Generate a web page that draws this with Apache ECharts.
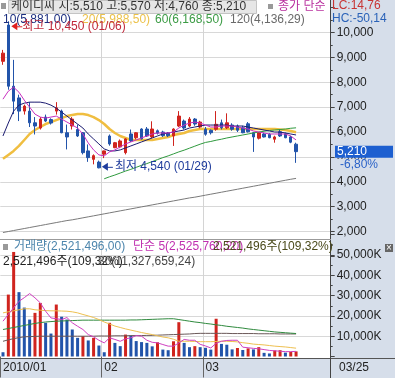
<!DOCTYPE html>
<html>
<head>
<meta charset="utf-8">
<script src="https://cdn.jsdelivr.net/npm/echarts@6/dist/echarts.min.js"></script>
<style>
html, body { margin: 0; padding: 0; background: #fff; }
#main { width: 395px; height: 378px; }
</style>
</head>
<body>
<div id="main"></div>
<script>
// 케이디씨 일봉 2010/01/05 ~ 2010/03/25
var dates = ['01/05','01/06','01/07','01/08','01/11','01/12','01/13','01/14','01/15','01/18','01/19','01/20','01/21','01/22','01/25','01/26','01/27','01/28','01/29',
  '02/01','02/02','02/03','02/04','02/05','02/08','02/09','02/10','02/11','02/12','02/16','02/17','02/18','02/19','02/22','02/23','02/24','02/25','02/26',
  '03/02','03/03','03/04','03/05','03/08','03/09','03/10','03/11','03/12','03/15','03/16','03/17','03/18','03/19','03/22','03/23','03/24','03/25'];
var blankSlots = 6;

var openP = [8840,10300,7840,7370,6840,6840,6370,6160,6600,6500,6840,6840,5970,6240,6100,5970,5240,4900,4790,
  5110,5840,5370,5400,5170,5920,5770,6120,6120,5800,6050,6000,5950,5840,6240,6440,6240,6520,6200,
  6110,6070,6110,6370,6170,6280,6240,6170,6330,5970,5750,5920,5910,5710,6010,5930,5800,5510];
var closeP = [9170,7840,7240,6840,7040,6370,6240,6520,6440,6360,6970,5970,5800,6520,5840,5170,4970,5050,4560,
  5240,5520,5570,5640,5720,5640,5970,5720,5840,6120,5950,5850,5850,6120,6640,6160,6520,6320,6400,
  5910,5970,6310,6170,6370,6110,6070,5970,6010,5800,5970,5800,5770,5800,5840,5770,5590,5210];
var lowP = [8700,7700,6720,6440,6700,6200,5900,6100,6400,6300,6700,5950,5300,6100,5800,5100,4800,4700,4540,
  4950,5450,5350,5350,5100,5600,5700,5700,5800,5750,5900,5800,5800,5440,6200,6100,6200,6250,6150,
  5850,5900,6050,6100,6120,6050,6000,5950,5980,5200,5700,5780,5750,5570,5800,5750,5550,4760];
var highP = [9300,10450,8900,7500,7100,7200,6600,6600,6700,6550,7200,6900,6300,6600,6300,6000,5500,5100,4850,
  5250,5900,5600,5700,5750,6100,6000,6150,6200,6430,6100,6050,6000,6150,6840,6500,6600,6560,6450,
  6200,6100,6840,6500,6750,6350,6300,6250,6400,6000,6000,5970,5950,5850,6100,5980,5850,5570];

var ma5 = [7320,7640,7800,7600,7280,7000,6720,6600,6560,6600,6640,6520,6400,6280,6160,5920,5560,5280,5080,
  5040,5200,5280,5400,5520,5600,5680,5760,5840,5920,5960,5960,5960,6000,6160,6280,6360,6400,6360,
  6280,6200,6200,6240,6240,6240,6200,6160,6120,6040,6000,5960,5920,5920,5920,5920,5840,5680];
var ma10 = [5840,6360,6840,7080,7160,7200,7200,7200,7160,7080,6960,6800,6640,6480,6320,6160,5920,5720,5520,
  5320,5240,5240,5280,5360,5440,5520,5600,5680,5760,5840,5920,5960,6000,6040,6080,6160,6200,6240,
  6280,6280,6280,6280,6280,6240,6240,6240,6200,6160,6120,6080,6040,6000,6000,5960,5920,5881];
var ma20 = [4920,5080,5240,5440,5680,5920,6080,6200,6320,6400,6480,6560,6640,6680,6720,6720,6680,6600,6480,
  6320,6120,5960,5840,5760,5680,5680,5680,5680,5680,5720,5760,5800,5880,5920,5960,6040,6080,6120,
  6120,6120,6120,6120,6120,6120,6120,6120,6120,6120,6120,6120,6120,6120,6100,6080,6040,5988];
var ma60Start = 19;
var ma60 = [4120,4200,4270,4350,4430,4500,4580,4660,4730,4810,4890,4970,5040,5120,5200,5270,5350,5430,5510,
  5580,5620,5670,5710,5760,5800,5840,5880,5920,5960,6000,6030,6060,6080,6100,6120,6150,6168];
var ma120 = [1960,2000,2040,2080,2120,2160,2200,2240,2280,2320,2360,2400,2440,2470,2510,2550,2590,2630,2670,
  2710,2750,2790,2830,2870,2910,2950,2990,3030,3070,3110,3150,3190,3230,3270,3310,3350,3380,3420,
  3460,3500,3540,3580,3620,3660,3700,3740,3780,3820,3860,3900,3940,3980,4020,4060,4100,4136];

// 거래량 (천주)
var volume = [2100,30500,51500,31700,24100,18200,21500,26400,16600,11300,25600,19600,18200,13300,9200,10000,7900,9200,5400,
  2100,16600,6700,5100,10800,10300,7600,7100,6700,5000,7000,3400,3100,7500,16900,6700,4600,5100,4600,
  4300,3400,18600,6200,5800,3500,4200,3200,4000,3500,4600,1800,1500,3000,3100,1900,2307,2521];
var vma5 = [17400,20700,24000,27200,29000,31000,28900,26400,22300,19000,18600,18200,19200,16600,14900,13300,10800,9700,8000,
  6700,9200,8400,7500,8700,9200,10300,10000,8000,7000,6700,5900,5100,5100,6700,8400,8000,8000,6000,
  5200,4200,6500,7500,7900,8000,8000,4600,4300,4000,3800,3400,3000,2800,2600,2400,2400,2526];
var vma20 = [21500,22000,22500,23000,23500,23500,23000,22800,22600,22500,22500,22400,22300,22000,21500,20700,20000,19200,18200,
  17000,16000,15000,14300,13600,13000,12400,11800,11300,10800,10200,9600,9200,8500,7500,7500,7500,7400,7300,
  7300,7300,7400,7500,7500,7400,7200,6800,6500,6100,5900,5700,5400,5100,4900,4700,4400,4100];
var vma60 = [13300,13800,14300,14800,15300,15800,16300,16700,17000,17200,17400,17500,17600,17700,17800,17900,17900,17900,17900,
  17900,17900,17900,17900,17900,18000,18000,18100,18200,18300,18400,18500,18600,18600,18200,17800,17400,17000,16700,
  16300,16000,15600,15300,14900,14600,14300,14000,13600,13300,13000,12700,12400,12100,11900,11700,11500,11328];
var vma120 = [7500,8200,8800,9300,9700,9800,9900,10000,10000,10000,10000,10000,10000,10000,10000,10000,10000,10000,10100,
  10100,10100,10200,10200,10200,10300,10300,10300,10400,10400,10500,10600,10700,10800,10900,11000,11100,11300,11400,
  11400,11400,11400,11400,11400,11300,11300,11300,11300,11300,11200,11200,11200,11200,11100,11100,11100,11100];

var tickIndex = [0, 19, 38];
var tickLabels = ['2010/01', '02', '03'];
var highIdx = 1, highVal = 10450, lowIdx = 18, lowVal = 4540;

var FONT = "'Liberation Sans','Noto Sans CJK KR',sans-serif";
var RED = '#d0241e', BLUE = '#2254aa';
var PANEL = '#d6deea';

var cats = dates.slice();
for (var k = 0; k < blankSlots; k++) cats.push('_' + k);

var candles = dates.map(function (d, i) {
  return [openP[i], closeP[i], lowP[i], highP[i]];
});
var ma60Full = [];
for (var j = 0; j < ma60Start; j++) ma60Full.push(null);
ma60Full = ma60Full.concat(ma60);

function isTick(i) { return tickIndex.indexOf(i) >= 0; }
function isSplit(i) { return i > 0 && tickIndex.indexOf(i) >= 0; }

function maLine(name, data, color, width, xi, yi, z) {
  return {
    name: name, type: 'line', data: data, xAxisIndex: xi, yAxisIndex: yi,
    symbol: 'none', smooth: false, z: z || 3,
    lineStyle: { color: color, width: width }
  };
}

var chart = echarts.init(document.getElementById('main'));
chart.setOption({
  animation: false,
  backgroundColor: '#fff',
  grid: [
    { left: 0.3, width: 330.4, top: 7.6, height: 248.8 },
    { left: 0.3, width: 330.4, top: 234.7, height: 121.8 }
  ],
  xAxis: [
    {
      type: 'category', gridIndex: 0, data: cats, boundaryGap: true,
      axisLine: { show: false }, axisTick: { show: false }, axisLabel: { show: false },
      splitLine: { show: true, interval: isSplit, lineStyle: { color: '#d4d4d4' } }
    },
    {
      type: 'category', gridIndex: 1, data: cats, boundaryGap: true,
      axisLine: { show: false },
      axisTick: { show: true, interval: isTick, length: 21, lineStyle: { color: '#666' } },
      axisLabel: {
        interval: isTick, align: 'left', margin: 5, color: '#222', fontSize: 12, fontFamily: FONT,
        formatter: function (v, i) { return tickLabels[tickIndex.indexOf(i)] || ''; }
      },
      splitLine: { show: true, interval: isSplit, lineStyle: { color: '#d4d4d4' } }
    }
  ],
  yAxis: [
    {
      type: 'value', gridIndex: 0, position: 'right', min: 1000, max: 11000, interval: 1000,
      axisLine: { show: true, lineStyle: { color: '#444' } },
      axisTick: { show: true, length: 4, lineStyle: { color: '#444' } },
      minorTick: { show: true, splitNumber: 2, length: 2, lineStyle: { color: '#444' } },
      axisLabel: {
        margin: 6, color: '#222', fontSize: 12, fontFamily: FONT,
        showMinLabel: false, showMaxLabel: false,
        formatter: function (v) { return v.toLocaleString('en-US'); }
      },
      splitLine: { show: true, showMinLine: false, showMaxLine: false, lineStyle: { color: '#d8d8d8' } }
    },
    {
      type: 'value', gridIndex: 1, position: 'right', min: 0, max: 60000, interval: 10000,
      axisLine: { show: true, lineStyle: { color: '#444' } },
      axisTick: { show: true, length: 4, lineStyle: { color: '#444' } },
      minorTick: { show: true, splitNumber: 2, length: 2, lineStyle: { color: '#444' } },
      axisLabel: {
        margin: 6, color: '#222', fontSize: 12, fontFamily: FONT,
        showMinLabel: false, showMaxLabel: false,
        formatter: function (v) { return v.toLocaleString('en-US') + 'K'; }
      },
      splitLine: { show: true, showMinLine: false, showMaxLine: false, lineStyle: { color: '#d8d8d8' } }
    }
  ],
  series: [
    maLine('20', ma20, '#f0be40', 2.5, 0, 0, 1),
    {
      name: '케이디씨', type: 'candlestick', data: candles, xAxisIndex: 0, yAxisIndex: 0,
      barWidth: 3, z: 2,
      itemStyle: { color: RED, color0: BLUE, borderColor: RED, borderColor0: BLUE, borderWidth: 1 }
    },
    maLine('120', ma120, '#7a7a7a', 1, 0, 0),
    maLine('60', ma60Full, '#2f9a3e', 1, 0, 0),
    maLine('10', ma10, '#1b1b70', 1, 0, 0),
    maLine('5', ma5, '#c930c0', 1, 0, 0),
    {
      name: '거래량', type: 'bar', data: volume, xAxisIndex: 1, yAxisIndex: 1, barWidth: 3,
      itemStyle: {
        color: function (p) {
          var i = p.dataIndex;
          return (i > 0 && volume[i] > volume[i - 1]) ? RED : BLUE;
        }
      }
    },
    maLine('v120', vma120, '#6a5858', 1, 1, 1),
    maLine('v60', vma60, '#2f8a3e', 1, 1, 1),
    maLine('v20', vma20, '#eec050', 1, 1, 1),
    maLine('v5', vma5, '#d040c0', 1, 1, 1)
  ]
});

// 주석 위치는 축 좌표로 환산
var hp = chart.convertToPixel({ gridIndex: 0 }, [highIdx, highVal]);
var lp = chart.convertToPixel({ gridIndex: 0 }, [lowIdx, lowVal]);
var lastY = chart.convertToPixel({ yAxisIndex: 0 }, closeP[closeP.length - 1]);

function txt(x, y, s, color, size) {
  return { type: 'text', z: 100, silent: true,
    style: { x: x, y: y, text: s, fill: color, font: (size || 12) + 'px ' + FONT, verticalAlign: 'top' } };
}
function rect(x, y, w, h, fill, stroke, z) {
  return { type: 'rect', z: z === undefined ? 100 : z, silent: true,
    shape: { x: x, y: y, width: w, height: h }, style: { fill: fill, stroke: stroke || null } };
}
function line(x1, y1, x2, y2, color, z) {
  return { type: 'line', z: z === undefined ? 50 : z, silent: true,
    shape: { x1: x1, y1: y1, x2: x2, y2: y2 }, style: { stroke: color, lineWidth: 1 } };
}
function arrow(tx, ty, color) {
  return [
    { type: 'polygon', z: 100, silent: true, shape: { points: [[tx, ty], [tx + 6, ty - 4], [tx + 6, ty + 4]] }, style: { fill: color } },
    line(tx + 5, ty + 0.5, tx + 11, ty + 0.5, color, 100)
  ];
}

var g = [
  rect(330.7, 0, 65, 378, PANEL, null, -10),
  rect(0, 358, 395, 20, PANEL, null, -10),
  line(0, 358.5, 395, 358.5, '#555'),
  line(330.5, 0, 330.5, 378, '#444'),
  line(0, 239.5, 331, 239.5, '#9a9a9a'),
  // 상단 헤더
  rect(1, 3, 5, 6, '#999'),
  rect(8.5, 0.5, 248, 13, '#e6e6e6', '#c4c4c4', 90),
  txt(11, 1, '케이디씨 시:5,510 고:5,570 저:4,760 종:5,210', '#333'),
  rect(268, 4, 5, 5, '#999'),
  txt(278, 1, '종가 단순', '#b8309e'),
  txt(332, 0, 'LC:14,76', '#c83434'),
  txt(332, 13, 'HC:-50,14', '#2a62b8'),
  txt(3, 14, '10(5,881,00)', '#1c2f80'),
  txt(82, 14, '20(5,988,50)', '#ecc24a'),
  txt(155, 14, '60(6,168,50)', '#3b9b44'),
  txt(230, 14, '120(4,136,29)', '#6a6a6a'),
  // 최고/최저
  txt(hp[0] + 14, hp[1] - 1, '최고 10,450 (01/06)', '#c0283a'),
  txt(lp[0] + 16, lp[1] - 8, '최저 4,540 (01/29)', '#1f3c9c'),
  // 현재가 표시
  rect(335, lastY - 6, 58, 12, '#1d5fd0'),
  txt(337, lastY - 6, '5,210', '#fff'),
  rect(335, lastY + 7, 58, 12, PANEL),
  txt(340, lastY + 7, '-6,80%', '#2a62c8'),
  // 거래량 헤더
  rect(3, 244, 5, 6, '#999'),
  txt(14, 241, '거래량(2,521,496,00)', '#4d86ad'),
  txt(133, 241, '단순 5(2,525,760,20)', '#c030b0'),
  txt(213, 241, '2,521,496주(109,32%)', '#4a4a1a'),
  txt(3, 256, '2,521,496주(109,32%)', '#222'),
  txt(98, 256, '30(11,327,659,24)', '#444'),
  rect(385, 244, 8, 8, '#666'),
  txt(386, 243, '×', '#fff', 10),
  // 마지막 날짜
  txt(339, 362, '03/25', '#222')
];
g = g.concat(arrow(hp[0] + 3, hp[1] + 5, '#e02020'));
g = g.concat(arrow(lp[0] + 3, lp[1] - 1.5, '#1f3c9c'));

chart.setOption({ graphic: g });
</script>
</body>
</html>
